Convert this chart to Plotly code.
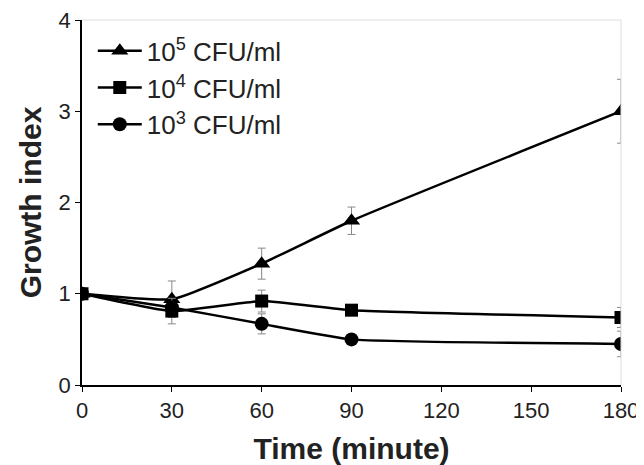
import plotly.graph_objects as go

times = [0, 30, 60, 90, 180]
tri = [1.0, 0.94, 1.33, 1.80, 3.00]
tri_err = [0.0, 0.20, 0.17, 0.15, 0.35]
sq = [1.0, 0.81, 0.92, 0.82, 0.74]
sq_err = [0.0, 0.14, 0.12, 0.05, 0.11]
circ = [1.0, 0.85, 0.67, 0.50, 0.45]
circ_err = [0.0, 0.05, 0.11, 0.05, 0.14]
names = ["10<sup>5</sup> CFU/ml", "10<sup>4</sup> CFU/ml", "10<sup>3</sup> CFU/ml"]
x_ticks = [0, 30, 60, 90, 120, 150, 180]
y_ticks = [0, 1, 2, 3, 4]

fig = go.Figure()
series = [(tri, tri_err, "triangle-up", 15), (sq, sq_err, "square", 13), (circ, circ_err, "circle", 14)]
for i, ((vals, err, sym, size), name) in enumerate(zip(series, names)):
    fig.add_trace(go.Scatter(
        x=times, y=vals, name=name, mode="lines+markers", legendgroup=f"g{i}",
        line=dict(color="black", width=2.5, shape="spline", smoothing=0.4),
        marker=dict(symbol=sym, size=size, color="black"),
        error_y=dict(type="data", array=err, color="#888888", thickness=1, width=4),
    ))

fig.add_shape(type="line", xref="paper", yref="paper", x0=0, x1=1, y0=1, y1=1,
              line=dict(color="#dddddd", width=1))
fig.add_shape(type="line", xref="paper", yref="paper", x0=1, x1=1, y0=0, y1=1,
              line=dict(color="#dddddd", width=1))

# page body has an 8px margin, so the figure is sized to the visible area
fig.update_layout(
    width=636, height=457,
    margin=dict(l=74, r=23, t=12, b=80),
    plot_bgcolor="white", paper_bgcolor="white",
    font=dict(family="Liberation Sans, Arial, sans-serif", color="#222222", size=22),
    showlegend=True,
    legend=dict(x=0.02, y=0.98, xanchor="left", yanchor="top", bgcolor="rgba(0,0,0,0)",
                font=dict(size=26, color="#222222"), itemwidth=44, tracegroupgap=0),
    xaxis=dict(range=[0, 180], tickvals=x_ticks, ticktext=[str(t) for t in x_ticks],
               showline=True, linecolor="black", linewidth=1.5, ticks="outside", ticklen=5,
               tickcolor="black", showgrid=False, zeroline=False, automargin=False,
               ticklabeloverflow="allow",
               title=dict(text="<b>Time (minute)</b>", font=dict(size=30), standoff=18)),
    yaxis=dict(range=[0, 4], tickvals=y_ticks, showline=True, linecolor="black", linewidth=1.5,
               ticks="outside", ticklen=5, tickcolor="black", showgrid=False, zeroline=False,
               automargin=False, ticklabeloverflow="allow",
               title=dict(text="<b>Growth index</b>", font=dict(size=30), standoff=8)),
)

fig.write_html("out.html")
